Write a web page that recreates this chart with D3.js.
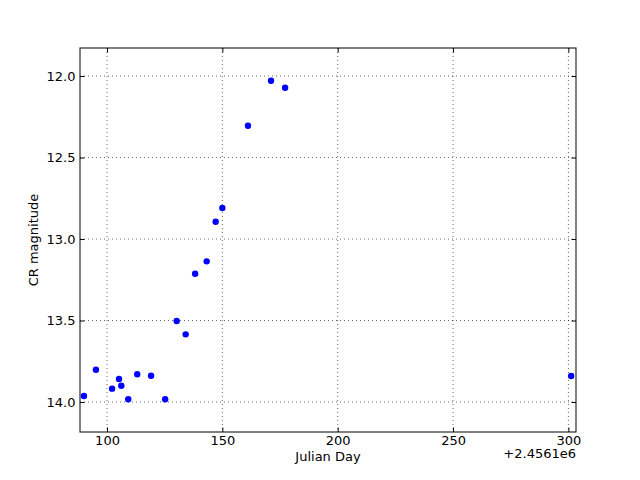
<!DOCTYPE html>
<html><head><meta charset="utf-8">
<script src="https://cdn.jsdelivr.net/npm/d3@7"></script>
<style>body{margin:0;background:#fff}svg{display:block}text{font-family:"DejaVu Sans",sans-serif;fill:#000}</style>
</head><body>
<script>
const jdOffset = 2456100;
const julianDay = [90.0, 95.2, 102.2, 105.2, 106.2, 109.2, 113.1, 119.1, 125.2, 130.2, 134.1, 138.2, 143.2, 147.1, 150.0, 161.1, 171.1, 177.2, 301.2];
const magnitude = [13.963, 13.802, 13.918, 13.859, 13.900, 13.983, 13.830, 13.839, 13.983, 13.503, 13.585, 13.213, 13.137, 12.894, 12.810, 12.305, 12.029, 12.072, 13.840];
const xTicks = [100, 150, 200, 250, 300];
const yTicks = [12.0, 12.5, 13.0, 13.5, 14.0];

const W = 640, H = 480;
const L = 80, R = 576, T = 48, B = 432;
const svg = d3.select("body").append("svg").attr("width", W).attr("height", H);
svg.append("rect").attr("width", W).attr("height", H).attr("fill", "#fff");

const x = d3.scaleLinear().domain([88.29, 303.3]).range([L, R]);
const y = d3.scaleLinear().domain([11.828, 14.184]).range([T, B]);

const grid = svg.append("g").attr("stroke", "#000").attr("stroke-width", 0.6).attr("stroke-dasharray", "1,3");
xTicks.forEach(t => grid.append("line").attr("x1", x(t)).attr("x2", x(t)).attr("y1", T).attr("y2", B));
yTicks.forEach(t => grid.append("line").attr("y1", y(t)).attr("y2", y(t)).attr("x1", L).attr("x2", R));

svg.append("g").selectAll("circle").data(julianDay).join("circle")
  .attr("cx", d => x(d)).attr("cy", (d, i) => y(magnitude[i])).attr("r", 3.2).attr("fill", "#0000ff");

// axes with inward ticks
const fmtY = d3.format(".1f");
const axB = d3.axisBottom(x).tickValues(xTicks).tickSizeInner(-4.5).tickSizeOuter(0).tickPadding(4);
const axT = d3.axisTop(x).tickValues(xTicks).tickSizeInner(-4.5).tickSizeOuter(0).tickFormat("");
const axL = d3.axisLeft(y).tickValues(yTicks).tickSizeInner(-4.5).tickSizeOuter(0).tickPadding(4.5).tickFormat(fmtY);
const axR = d3.axisRight(y).tickValues(yTicks).tickSizeInner(-4.5).tickSizeOuter(0).tickFormat("");
[[axB, `translate(0,${B})`], [axT, `translate(0,${T})`], [axL, `translate(${L},0)`], [axR, `translate(${R},0)`]].forEach(([a, tr]) => {
  const g = svg.append("g").attr("transform", tr).call(a);
  g.select(".domain").remove();
  g.selectAll("line").attr("stroke", "#000").attr("stroke-width", 1);
  g.selectAll("text").attr("font-size", 13).attr("font-family", "DejaVu Sans").attr("fill", "#000");
});
svg.append("rect").attr("x", L).attr("y", T).attr("width", R - L).attr("height", B - T)
  .attr("fill", "none").attr("stroke", "#000").attr("stroke-width", 1);

svg.append("text").attr("x", (L + R) / 2).attr("y", 461).attr("text-anchor", "middle").attr("font-size", 13).text("Julian Day");
svg.append("text").attr("transform", `translate(38,${(T + B) / 2}) rotate(-90)`).attr("text-anchor", "middle").attr("font-size", 13).text("CR magnitude");
svg.append("text").attr("x", R).attr("y", 458).attr("text-anchor", "end").attr("font-size", 13).text("+2.4561e6");
</script>
</body></html>
